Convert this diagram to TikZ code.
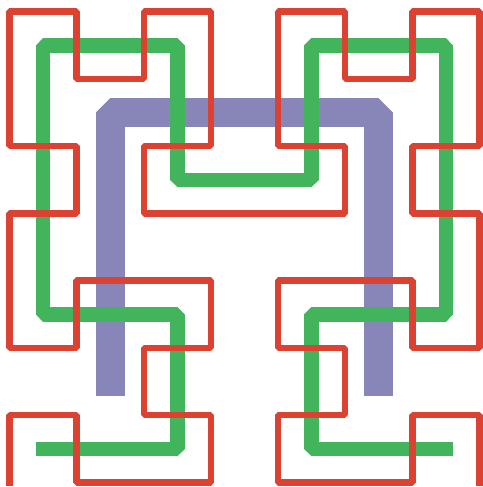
\documentclass[tikz,border=0pt]{standalone}
\definecolor{hred}{RGB}{220,66,50}
\definecolor{hgreen}{RGB}{66,181,92}
\definecolor{hpurple}{RGB}{136,134,184}
\begin{document}
\begin{tikzpicture}[x=67.14pt,y=67.26pt,
  curve/.style={line join=bevel,line cap=rect},
  order1/.style={curve,hpurple,line width=29.4pt},
  order2/.style={curve,hgreen,line width=14.5pt},
  order3/.style={curve,hred,line width=6.5pt}]
\useasboundingbox (-9.5pt,-4.5pt) rectangle (472.5pt,482.5pt);
% order 1
\draw[order1] (1.5,1.5) -- (1.5,5.5) -- (5.5,5.5) -- (5.5,1.5);
% order 2
\draw[order2] (0.5,0.5) -- (2.5,0.5) -- (2.5,2.5) -- (0.5,2.5) -- (0.5,6.5) -- (2.5,6.5) -- (2.5,4.5) -- (4.5,4.5) -- (4.5,6.5) -- (6.5,6.5) -- (6.5,2.5) -- (4.5,2.5) -- (4.5,0.5) -- (6.5,0.5);
% order 3
\draw[order3] (0,0) -- (0,1) -- (1,1) -- (1,0) -- (3,0) -- (3,1) -- (2,1) -- (2,2) -- (3,2) -- (3,3) -- (1,3) -- (1,2) -- (0,2) -- (0,4)
 -- (1,4) -- (1,5) -- (0,5) -- (0,7) -- (1,7) -- (1,6) -- (2,6) -- (2,7) -- (3,7) -- (3,5) -- (2,5) -- (2,4) -- (4,4)
 -- (5,4) -- (5,5) -- (4,5) -- (4,7) -- (5,7) -- (5,6) -- (6,6) -- (6,7) -- (7,7) -- (7,5) -- (6,5) -- (6,4) -- (7,4)
 -- (7,2) -- (6,2) -- (6,3) -- (4,3) -- (4,2) -- (5,2) -- (5,1) -- (4,1) -- (4,0) -- (6,0) -- (6,1) -- (7,1) -- (7,0);
\end{tikzpicture}
\end{document}
